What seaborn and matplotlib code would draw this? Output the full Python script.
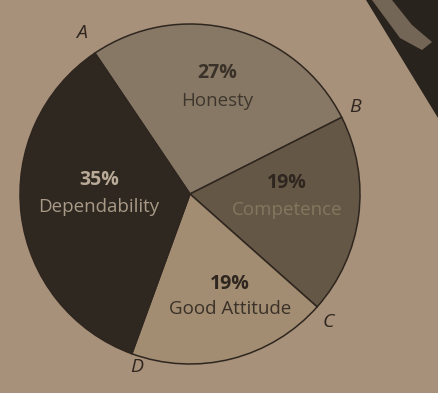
import matplotlib
matplotlib.use("Agg")
import matplotlib.pyplot as plt
import seaborn as sns
from matplotlib.patches import Polygon

categories = ["Honesty", "Competence", "Good Attitude", "Dependability"]
values = [27, 19, 19, 35]
pct_labels = ["27%", "19%", "19%", "35%"]
point_labels = ["A", "B", "C", "D"]

sns.set_style("white")
plt.rcParams['font.family'] = ['Open Sans', 'DejaVu Sans']

colors = ["#867864", "#655745", "#a28d72", "#2f2820"]
bg = "#a8917a"

fig = plt.figure(figsize=(4.38, 3.93), dpi=100, facecolor=bg)
ax = fig.add_axes([0, 0, 1, 1])
ax.set_facecolor(bg)
ax.set_xlim(0, 438)
ax.set_ylim(0, 393)
ax.set_aspect("equal")
ax.axis("off")

H = 393
# photo background: dark corner at top right
ax.add_patch(Polygon([(366, H - 0), (438, H - 0), (438, H - 118)], closed=True,
                     facecolor="#29231d", edgecolor="none", zorder=0))
ax.add_patch(Polygon([(372, H - 0), (392, H - 0), (412, H - 25), (432, H - 42),
                      (422, H - 50), (400, H - 38)],
                     closed=True, facecolor="#7d6e5d", edgecolor="none",
                     zorder=0, alpha=0.9))

ax.pie(values, colors=colors, startangle=124, counterclock=False,
       center=(190, H - 194), radius=170,
       wedgeprops=dict(edgecolor="#2e261f", linewidth=1.1))
ax.set_xlim(0, 438)
ax.set_ylim(0, 393)
ax.set_aspect("equal")

# percent and category labels
txt = [
    (217, 73, 101, "27%", "Honesty", "#3a3128", "#3f372e"),
    (287, 183, 210, "19%", "Competence", "#2e261f", "#85765f"),
    (230, 284, 309, "19%", "Good Attitude", "#2e261f", "#3a3128"),
    (99, 180, 207, "35%", "Dependability", "#b8aa96", "#a89a86"),
]
for x, yp, yc, p, c, pc, cc in txt:
    ax.text(x, H - yp, p, ha="center", va="center", fontsize=14,
            fontweight="bold", color=pc)
    ax.text(x, H - yc, c, ha="center", va="center", fontsize=13.5,
            color=cc)

pts = [(82, 33), (355, 107), (328, 322), (137, 367)]
for (x, y), lab in zip(pts, point_labels):
    ax.text(x, H - y, lab, ha="center", va="center", fontsize=14,
            style="italic", color="#2e261f")

fig.savefig("out.png", dpi=100, facecolor=bg)
